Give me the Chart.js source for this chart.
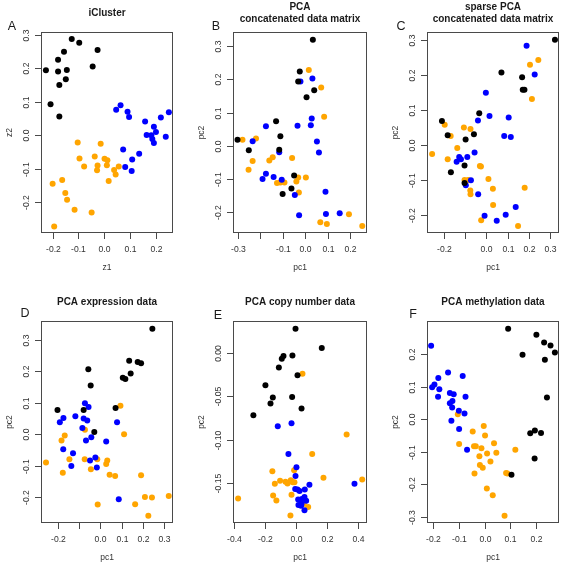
<!DOCTYPE html>
<html>
<head>
<meta charset="utf-8">
<title>Clustering panels</title>
<script src="https://cdn.jsdelivr.net/npm/chart.js@4.4.0/dist/chart.umd.min.js"></script>
<style>
  html, body { margin: 0; padding: 0; background: #fff; }
  #page { position: relative; width: 563px; height: 565px; overflow: hidden; }
  #page canvas { position: absolute; }
</style>
</head>
<body>
<div id="page"></div>
<script>
// cluster colours, same as the R palette names
const BLACK = '#000000';
const BLUE = '#0000ff';
const ORANGE = '#ffa500';

// A - iCluster (z1, z2)
const iclBlack = [[-0.126,0.287],[-0.097,0.276],[-0.026,0.254],[-0.156,0.249],[-0.179,0.225],[-0.226,0.194],[-0.179,0.19],[-0.145,0.195],[-0.045,0.205],[-0.149,0.167],[-0.174,0.15],[-0.208,0.093],[-0.174,0.056]];
const iclBlue = [[0.046,0.076],[0.063,0.09],[0.09,0.07],[0.096,0.055],[0.25,0.069],[0.219,0.053],[0.158,0.041],[0.192,0.026],[0.2,0.01],[0.164,0.001],[0.182,0.0],[0.186,-0.011],[0.192,-0.023],[0.238,-0.004],[0.073,-0.042],[0.135,-0.055],[0.108,-0.072],[0.081,-0.094],[0.106,-0.106]];
const iclOrange = [[-0.103,-0.021],[-0.014,-0.025],[-0.096,-0.069],[-0.037,-0.063],[0.001,-0.07],[0.012,-0.074],[-0.078,-0.093],[-0.026,-0.09],[-0.028,-0.104],[0.01,-0.089],[0.056,-0.093],[0.038,-0.103],[0.044,-0.117],[0.017,-0.136],[-0.2,-0.144],[-0.163,-0.133],[-0.151,-0.172],[-0.144,-0.192],[-0.115,-0.222],[-0.049,-0.23],[-0.194,-0.272]];

// B - PCA, concatenated data matrix
const pcaBlack = [[0.034,0.319],[-0.024,0.223],[-0.031,0.193],[0.04,0.167],[0.006,0.146],[-0.129,0.074],[-0.11,0.029],[-0.3,0.018],[-0.25,-0.013],[-0.115,-0.012],[-0.049,-0.089],[-0.061,-0.128],[-0.1,-0.145]];
const pcaBlue = [[-0.021,0.193],[0.032,0.202],[-0.174,0.059],[-0.034,0.06],[0.029,0.082],[0.025,0.062],[-0.233,0.014],[0.052,0.013],[0.061,-0.02],[-0.115,-0.019],[-0.174,-0.084],[-0.189,-0.1],[-0.14,-0.094],[-0.104,-0.102],[-0.046,-0.148],[0.09,-0.138],[-0.027,-0.209],[0.092,-0.205],[0.153,-0.203]];
const pcaOrange = [[0.016,0.228],[0.071,0.175],[0.084,0.087],[-0.278,0.018],[-0.218,0.022],[-0.233,-0.046],[-0.251,-0.072],[-0.159,-0.044],[-0.144,-0.034],[-0.058,-0.037],[-0.125,-0.112],[-0.11,-0.11],[-0.092,-0.11],[-0.031,-0.095],[-0.039,-0.107],[0.003,-0.095],[-0.028,-0.14],[0.067,-0.23],[0.096,-0.235],[0.194,-0.206],[0.253,-0.241]];

// C - sparse PCA, concatenated data matrix
const spcaBlack = [[0.321,0.3],[0.07,0.207],[0.167,0.193],[0.17,0.158],[0.178,0.158],[-0.034,0.091],[-0.209,0.069],[-0.182,0.028],[-0.059,0.031],[-0.098,0.016],[-0.103,-0.058],[-0.167,-0.077],[-0.103,-0.108]];
const spcaBlue = [[0.188,0.283],[0.226,0.201],[-0.003,0.149],[0.014,0.083],[-0.04,0.07],[0.104,0.079],[0.083,0.026],[0.114,0.023],[-0.056,-0.021],[-0.09,-0.034],[-0.128,-0.034],[-0.12,-0.04],[-0.14,-0.047],[-0.073,-0.1],[-0.097,-0.114],[-0.039,-0.14],[0.137,-0.176],[0.09,-0.198],[-0.009,-0.201],[0.048,-0.215]];
const spcaOrange = [[0.243,0.242],[0.204,0.229],[0.213,0.131],[-0.196,0.058],[-0.106,0.05],[-0.075,0.046],[-0.168,0.026],[-0.255,-0.025],[-0.137,-0.008],[-0.182,-0.04],[-0.031,-0.059],[-0.026,-0.061],[-0.103,-0.099],[-0.086,-0.099],[-0.076,-0.129],[-0.075,-0.14],[0.009,-0.096],[0.03,-0.124],[0.031,-0.17],[0.179,-0.121],[-0.025,-0.214],[0.148,-0.23]];

// D - PCA expression data
const exprBlack = [[0.245,0.336],[0.136,0.234],[0.176,0.23],[0.192,0.226],[0.143,0.194],[0.106,0.18],[0.118,0.176],[-0.056,0.207],[-0.045,0.155],[-0.201,0.077],[-0.078,0.077],[0.072,0.084],[-0.028,0.007]];
const exprBlue = [[-0.072,0.099],[-0.055,0.087],[-0.173,0.052],[-0.19,0.038],[-0.117,0.057],[-0.078,0.05],[-0.061,0.044],[-0.084,0.02],[-0.067,-0.02],[-0.042,-0.01],[0.079,0.038],[0.028,-0.023],[-0.174,-0.048],[-0.128,-0.061],[-0.136,-0.101],[-0.048,-0.084],[-0.023,-0.074],[-0.016,-0.106],[0.087,-0.207]];
const exprOrange = [[0.095,0.091],[0.112,0.0],[-0.167,-0.004],[-0.182,-0.02],[-0.072,0.014],[-0.255,-0.09],[-0.145,-0.08],[-0.073,-0.08],[-0.014,-0.08],[0.033,-0.084],[0.028,-0.095],[-0.044,-0.112],[0.044,-0.129],[0.07,-0.133],[-0.176,-0.123],[0.192,-0.131],[-0.012,-0.224],[0.164,-0.223],[0.21,-0.2],[0.243,-0.202],[0.322,-0.197],[0.226,-0.26]];

// E - PCA copy number data
const cnBlack = [[-0.004,0.0277],[0.166,0.0054],[-0.082,-0.0038],[-0.093,-0.0069],[-0.024,-0.003],[-0.112,-0.0169],[0.009,-0.026],[-0.199,-0.0373],[-0.151,-0.0515],[-0.026,-0.0508],[-0.166,-0.0585],[0.035,-0.0642],[-0.277,-0.0719]];
const cnBlue = [[-0.119,-0.0846],[-0.03,-0.0812],[-0.05,-0.1165],[0.002,-0.1319],[-0.004,-0.1419],[0.086,-0.1519],[0.378,-0.1508],[-0.006,-0.1569],[0.009,-0.1573],[0.022,-0.1592],[0.056,-0.1573],[0.013,-0.1688],[0.037,-0.1685],[0.054,-0.1662],[0.065,-0.1704],[0.015,-0.1754],[0.032,-0.1762],[0.054,-0.1812],[0.035,-0.1738]];
const cnOrange = [[0.041,-0.0242],[0.327,-0.0942],[0.104,-0.1165],[-0.013,-0.1354],[-0.154,-0.1365],[0.177,-0.1438],[0.428,-0.1458],[-0.104,-0.1473],[-0.138,-0.1508],[-0.069,-0.1485],[-0.056,-0.1504],[-0.035,-0.1469],[-0.022,-0.1492],[-0.011,-0.1492],[-0.03,-0.1635],[-0.149,-0.1642],[-0.128,-0.17],[-0.376,-0.1677],[0.05,-0.1742],[0.078,-0.1777],[-0.037,-0.1873]];

// F - PCA methylation data
const methBlack = [[0.091,0.278],[0.201,0.26],[0.231,0.236],[0.256,0.227],[0.273,0.205],[0.147,0.198],[0.234,0.183],[0.242,0.067],[0.195,-0.035],[0.177,-0.043],[0.219,-0.042],[0.194,-0.121],[0.104,-0.171]];
const methBlue = [[-0.209,0.226],[-0.143,0.144],[-0.086,0.133],[-0.181,0.127],[-0.196,0.107],[-0.205,0.098],[-0.177,0.092],[-0.182,0.069],[-0.075,0.069],[-0.136,0.081],[-0.121,0.077],[-0.126,0.056],[-0.136,0.049],[-0.127,0.036],[-0.101,0.026],[-0.079,0.018],[-0.13,-0.005],[-0.1,-0.03],[-0.069,-0.094]];
const methOrange = [[-0.105,0.015],[-0.004,-0.021],[-0.047,-0.038],[0.001,-0.05],[-0.1,-0.076],[-0.042,-0.083],[-0.035,-0.083],[-0.013,-0.089],[0.036,-0.074],[0.009,-0.105],[0.045,-0.103],[0.119,-0.094],[-0.021,-0.114],[0.022,-0.13],[-0.019,-0.141],[-0.008,-0.149],[-0.04,-0.167],[0.083,-0.165],[0.088,-0.167],[0.008,-0.213],[0.031,-0.234],[0.077,-0.297]];

// tick positions and labels (R drops labels that would overlap -> '')
const ticksA = [-0.2, -0.1, 0.0, 0.1, 0.2];
const labelsA = ['-0.2', '-0.1', '0.0', '0.1', '0.2'];
const ticksB = [-0.3, -0.2, -0.1, 0.0, 0.1, 0.2];
const labelsB = ['-0.3', '', '-0.1', '0.0', '0.1', '0.2'];
const ticksC = [-0.2, -0.1, 0.0, 0.1, 0.2, 0.3];
const labelsC = ['-0.2', '', '0.0', '0.1', '0.2', '0.3'];
const ticksY = [-0.2, -0.1, 0.0, 0.1, 0.2, 0.3];
const labelsY = ['-0.2', '-0.1', '0.0', '0.1', '0.2', '0.3'];
const ticksCnX = [-0.4, -0.2, 0.0, 0.2, 0.4];
const labelsCnX = ['-0.4', '-0.2', '0.0', '0.2', '0.4'];
const ticksCnY = [-0.15, -0.10, -0.05, 0.00];
const labelsCnY = ['-0.15', '-0.10', '-0.05', '0.00'];
const ticksMethY = [-0.3, -0.2, -0.1, 0.0, 0.1, 0.2];
const labelsMethY = ['-0.3', '-0.2', '-0.1', '0.0', '0.1', '0.2'];

const FONT = '"Liberation Sans", Arial, Helvetica, sans-serif';

// panel layout: cell = canvas rect on the page, box = plot region on the page
const panels = [
  { letter: 'A', letterAt: [12, 27], title: ['iCluster'], xlab: 'z1', ylab: 'z2',
    cell: [0, 0, 188, 283], box: [41, 32, 173, 233],
    xRange: [-0.245, 0.266], yRange: [-0.291, 0.308],
    xTicks: ticksA, xLabels: labelsA, yTicks: ticksY, yLabels: labelsY,
    series: [iclBlack, iclBlue, iclOrange] },
  { letter: 'B', letterAt: [216, 27], title: ['PCA', 'concatenated data matrix'], xlab: 'pc1', ylab: 'pc2',
    cell: [188, 0, 188, 283], box: [233, 32, 367, 233],
    xRange: [-0.320, 0.274], yRange: [-0.262, 0.342],
    xTicks: ticksB, xLabels: labelsB, yTicks: ticksY, yLabels: labelsY,
    series: [pcaBlack, pcaBlue, pcaOrange] },
  { letter: 'C', letterAt: [401, 27], title: ['sparse PCA', 'concatenated data matrix'], xlab: 'pc1', ylab: 'pc2',
    cell: [376, 0, 187, 283], box: [427, 32, 559, 233],
    xRange: [-0.279, 0.340], yRange: [-0.250, 0.322],
    xTicks: ticksC, xLabels: labelsC, yTicks: ticksY, yLabels: labelsY,
    series: [spcaBlack, spcaBlue, spcaOrange] },
  { letter: 'D', letterAt: [25, 314], title: ['PCA expression data'], xlab: 'pc1', ylab: 'pc2',
    cell: [0, 283, 188, 282], box: [41, 321, 173, 523],
    xRange: [-0.2785, 0.342], yRange: [-0.283, 0.361],
    xTicks: ticksC, xLabels: labelsC, yTicks: ticksY, yLabels: labelsY,
    series: [exprBlack, exprBlue, exprOrange] },
  { letter: 'E', letterAt: [218, 316], title: ['PCA copy number data'], xlab: 'pc1', ylab: 'pc2',
    cell: [188, 283, 188, 282], box: [233, 321, 367, 523],
    xRange: [-0.409, 0.459], yRange: [-0.196, 0.0366],
    xTicks: ticksCnX, xLabels: labelsCnX, yTicks: ticksCnY, yLabels: labelsCnY,
    series: [cnBlack, cnBlue, cnOrange] },
  { letter: 'F', letterAt: [413, 315], title: ['PCA methylation data'], xlab: 'pc1', ylab: 'pc2',
    cell: [376, 283, 187, 282], box: [427, 321, 559, 523],
    xRange: [-0.225, 0.289], yRange: [-0.319, 0.302],
    xTicks: ticksA, xLabels: labelsA, yTicks: ticksMethY, yLabels: labelsMethY,
    series: [methBlack, methBlue, methOrange] }
];

// draws the base-R look: box, outward ticks, rotated y labels, titles
const rStyleAxes = {
  id: 'rStyleAxes',
  afterDatasetsDraw(chart) {
    const p = chart.options.plugins.rStyleAxes;
    const { ctx, chartArea: area } = chart;
    const xs = chart.scales.x;
    const ys = chart.scales.y;
    const cx = (area.left + area.right) / 2;
    const cy = (area.top + area.bottom) / 2;

    ctx.save();
    ctx.strokeStyle = '#4a4a4a';
    ctx.lineWidth = 1;
    ctx.strokeRect(area.left + 0.5, area.top + 0.5, area.right - area.left - 1, area.bottom - area.top - 1);

    ctx.fillStyle = '#333';
    ctx.font = '8.6px ' + FONT;
    ctx.textAlign = 'center';
    ctx.textBaseline = 'middle';

    // x axis
    p.xTicks.forEach((v, i) => {
      const px = Math.round(xs.getPixelForValue(v)) + 0.5;
      ctx.beginPath();
      ctx.moveTo(px, area.bottom);
      ctx.lineTo(px, area.bottom + 6);
      ctx.stroke();
      if (p.xLabels[i]) ctx.fillText(p.xLabels[i], px, area.bottom + 16.5);
    });

    // y axis, labels parallel to the axis
    p.yTicks.forEach((v, i) => {
      const py = Math.round(ys.getPixelForValue(v)) + 0.5;
      ctx.beginPath();
      ctx.moveTo(area.left, py);
      ctx.lineTo(area.left - 6, py);
      ctx.stroke();
      if (p.yLabels[i]) {
        ctx.save();
        ctx.translate(area.left - 14, py);
        ctx.rotate(-Math.PI / 2);
        ctx.fillText(p.yLabels[i], 0, 0);
        ctx.restore();
      }
    });

    // axis titles
    ctx.font = '8.5px ' + FONT;
    ctx.fillText(p.xlab, cx, area.bottom + 34.5);
    ctx.save();
    ctx.translate(area.left - 31, cy);
    ctx.rotate(-Math.PI / 2);
    ctx.fillText(p.ylab, 0, 0);
    ctx.restore();

    // main title (one or two lines)
    ctx.fillStyle = '#1a1a1a';
    ctx.font = 'bold 10px ' + FONT;
    const lh = 12.2;
    const top = area.top - 18.6 - (p.title.length - 1) * lh / 2;
    p.title.forEach((line, i) => ctx.fillText(line, cx, top + i * lh));

    // panel letter
    ctx.font = '12.5px ' + FONT;
    ctx.fillText(p.letter, p.letterAt[0] - p.cell[0], p.letterAt[1] - p.cell[1]);
    ctx.restore();
  }
};

const page = document.getElementById('page');
const colours = [BLACK, BLUE, ORANGE];

panels.forEach(p => {
  const [cx, cy, cw, ch] = p.cell;
  const [bl, bt, br, bb] = p.box;
  const canvas = document.createElement('canvas');
  canvas.width = cw;
  canvas.height = ch;
  canvas.style.left = cx + 'px';
  canvas.style.top = cy + 'px';
  canvas.style.width = cw + 'px';
  canvas.style.height = ch + 'px';
  page.appendChild(canvas);

  new Chart(canvas.getContext('2d'), {
    type: 'scatter',
    data: {
      datasets: p.series.map((pts, i) => ({
        data: pts.map(([x, y]) => ({ x, y })),
        backgroundColor: colours[i],
        borderWidth: 0,
        pointRadius: 3,
        pointHoverRadius: 3
      }))
    },
    options: {
      responsive: false,
      animation: false,
      events: [],
      layout: {
        padding: { left: bl - cx, top: bt - cy, right: cx + cw - br, bottom: cy + ch - bb }
      },
      scales: {
        x: { type: 'linear', min: p.xRange[0], max: p.xRange[1], display: false },
        y: { type: 'linear', min: p.yRange[0], max: p.yRange[1], display: false }
      },
      plugins: {
        legend: { display: false },
        tooltip: { enabled: false },
        rStyleAxes: p
      }
    },
    plugins: [rStyleAxes]
  });
});
</script>
</body>
</html>
